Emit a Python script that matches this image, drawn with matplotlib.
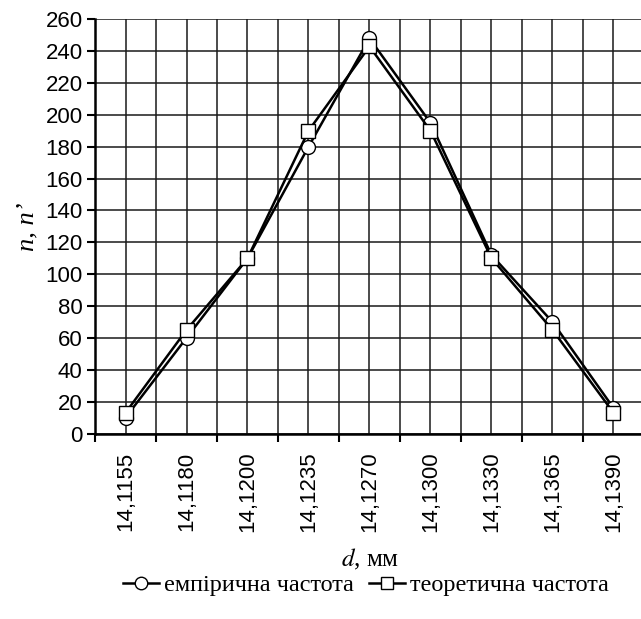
import matplotlib
matplotlib.use("Agg")
import matplotlib.pyplot as plt
from matplotlib.lines import Line2D

plt.rcParams["mathtext.fontset"] = "stix"

categories = ["14,1155", "14,1180", "14,1200", "14,1235", "14,1270",
              "14,1300", "14,1330", "14,1365", "14,1390"]
empirical = [10, 60, 110, 180, 248, 195, 112, 70, 16]
theoretical = [13, 65, 110, 190, 243, 190, 110, 65, 13]
y_ticks = list(range(0, 261, 20))

W, H = 641, 619
fig = plt.figure(figsize=(W / 100, H / 100), dpi=100)
ax = fig.add_axes([95 / W, 1 - 433.5 / H, (644 - 95) / W, (433.5 - 19.3) / H])

x = list(range(len(categories)))
ax.plot(x, empirical, color="black", lw=1.8, marker="o", ms=10,
        mfc="white", mec="black", mew=1.0, zorder=3)
ax.plot(x, theoretical, color="black", lw=1.8, marker="s", ms=9.5,
        mfc="white", mec="black", mew=1.0, zorder=4)

ax.set_xlim(-0.5, len(categories) - 0.5)
ax.set_ylim(0, 260)
ax.set_yticks(y_ticks)
ax.set_xticks(x)
ax.set_xticklabels(categories, rotation=90, fontsize=16, family="Liberation Sans")
ax.set_yticklabels([str(v) for v in y_ticks], fontsize=16, family="Liberation Sans")
ax.set_xticks([i - 0.5 for i in range(len(categories) + 1)], minor=True)
ax.tick_params(axis="x", which="major", length=0, pad=13)
ax.tick_params(axis="x", which="minor", length=6, width=1.5, direction="out")
ax.tick_params(axis="y", which="major", length=6, width=1.5, direction="out", pad=3)

ax.grid(True, which="both", axis="x", color="#1a1a1a", lw=1.1)
ax.grid(True, which="major", axis="y", color="#1a1a1a", lw=1.1)
ax.set_axisbelow(True)
for s in ["top", "right"]:
    ax.spines[s].set_visible(False)
ax.spines["left"].set_linewidth(1.8)
ax.spines["bottom"].set_linewidth(1.8)

ax.set_ylabel("n, n’", fontsize=19, family="Liberation Serif", style="italic",
              labelpad=5)

fig.text(370 / W, 1 - 559 / H, "$d$, мм", ha="center", va="center",
         fontsize=18, family="Liberation Serif")

h1 = Line2D([], [], color="black", lw=1.8, marker="o", ms=9, mfc="white", mec="black")
h2 = Line2D([], [], color="black", lw=1.8, marker="s", ms=9, mfc="white", mec="black")
fig.legend([h1, h2], ["емпірична частота", "теоретична частота"],
           loc="center", bbox_to_anchor=(366 / W, 1 - 585 / H), ncol=2,
           frameon=False, prop={"family": "Liberation Serif", "size": 17.5},
           handlelength=1.5, handletextpad=0.2, columnspacing=0.6)

fig.savefig("out.png", dpi=100)
